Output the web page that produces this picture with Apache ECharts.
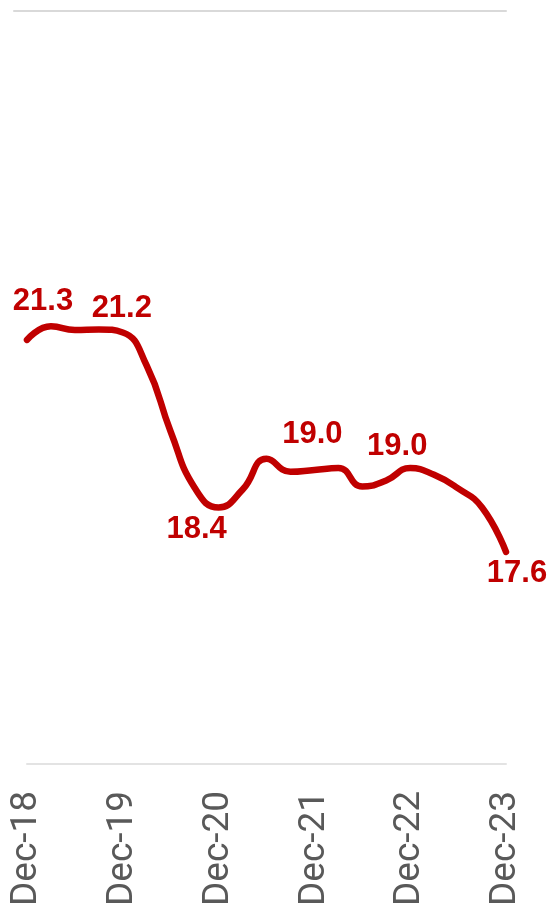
<!DOCTYPE html>
<html>
<head>
<meta charset="utf-8">
<script src="https://cdn.jsdelivr.net/npm/echarts@6/dist/echarts.min.js"></script>
<style>
html,body{margin:0;padding:0;background:#fff;}
#chart{width:551px;height:909px;}
</style>
</head>
<body>
<div id="chart"></div>
<script>
// Quarterly categories, Dec-18 .. Dec-23
const categories = [
  "Dec-18","Mar-19","Jun-19","Sep-19","Dec-19","Mar-20","Jun-20","Sep-20",
  "Dec-20","Mar-21","Jun-21","Sep-21","Dec-21","Mar-22","Jun-22","Sep-22",
  "Dec-22","Mar-23","Jun-23","Sep-23","Dec-23"
];
// Series values
const values = [
  21.08, 21.30, 21.24, 21.25, 21.20, 20.66, 19.59, 18.68,
  18.36, 18.65, 19.15, 18.94, 18.97, 19.00, 18.70, 18.80,
  19.00, 18.89, 18.67, 18.36, 17.64
];
// Which points carry a data label
const labelledIndices = [1, 4, 8, 12, 16, 20];
// Axis range
const yMin = 14.2;
const yMax = 26.4;

// label placement (style, kept apart from data)
const labelOffsets = {1: [-8, -25], 4: [-1, -24], 8: [-22, 22], 12: [-2, -35], 16: [-13, -22], 20: [11, 22]};

const seriesData = values.map((v, i) => {
  if (labelledIndices.indexOf(i) >= 0) {
    return {
      value: v,
      label: {
        show: true,
        position: 'inside',
        offset: labelOffsets[i],
        formatter: (p) => p.value.toFixed(1),
        fontFamily: 'Liberation Sans, Arial, sans-serif',
        fontWeight: 'bold',
        fontSize: 31,
        color: '#C00000'
      }
    };
  }
  return v;
});

const chart = echarts.init(document.getElementById('chart'), null, {renderer: 'canvas'});
chart.setOption({
  animation: false,
  backgroundColor: '#ffffff',
  grid: [
    {left: 27, right: 45, top: 12, bottom: 145, containLabel: false},
    {left: 14, right: 45, top: 11, height: 1, containLabel: false}
  ],
  xAxis: [
    {
      gridIndex: 0,
      type: 'category',
      data: categories,
      boundaryGap: false,
      axisLine: {show: true, lineStyle: {color: '#e3e3e3', width: 2}},
      axisTick: {show: false},
      axisLabel: {
        interval: 3,
        rotate: 90,
        margin: 27,
        fontFamily: 'Roboto, sans-serif',
        fontSize: 37,
        color: '#595959'
      },
      splitLine: {show: false}
    },
    {
      gridIndex: 1,
      type: 'value',
      position: 'top',
      axisLine: {show: true, onZero: false, lineStyle: {color: '#d9d9d9', width: 2}},
      axisTick: {show: false},
      axisLabel: {show: false},
      splitLine: {show: false}
    }
  ],
  yAxis: [
    {
      gridIndex: 0,
      type: 'value',
      min: yMin,
      max: yMax,
      show: false,
      splitLine: {show: false}
    },
    {
      gridIndex: 1,
      type: 'value',
      show: false
    }
  ],
  series: [
    {
      type: 'line',
      xAxisIndex: 0,
      yAxisIndex: 0,
      data: seriesData,
      smooth: 0.5,
      symbol: 'circle',
      symbolSize: 1,
      showSymbol: true,
      itemStyle: {color: 'rgba(192,0,0,0)', borderWidth: 0},
      lineStyle: {color: '#C00000', width: 6.5, cap: 'round'},
      clip: false
    }
  ]
});
</script>
</body>
</html>
